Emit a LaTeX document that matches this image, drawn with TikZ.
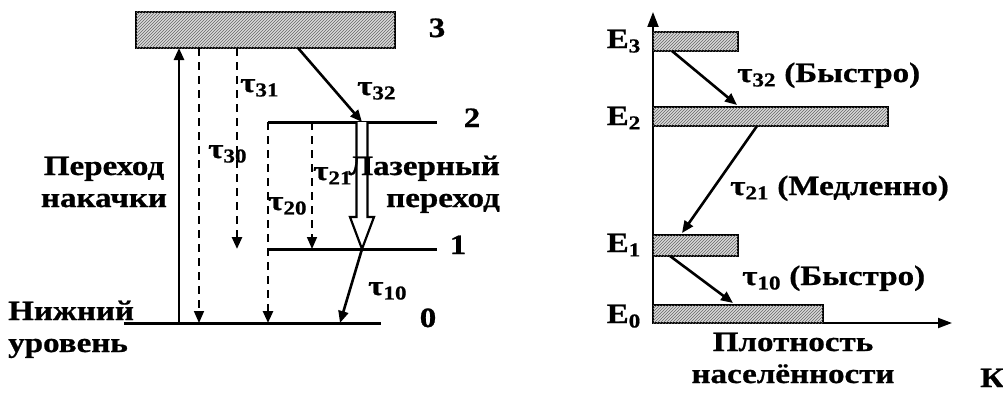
\documentclass[tikz,border=0pt]{standalone}
\usepackage{fontspec}
\setmainfont{Liberation Serif}[FakeStretch=1.18, BoldFeatures={FakeBold=0.8}]
\usetikzlibrary{positioning,calc,arrows.meta,patterns}

\begin{document}
\begin{tikzpicture}[x=1pt,y=1pt,
  lbl/.style={font=\bfseries\fontsize{28}{32}\selectfont, inner sep=0pt},
  bar/.style={draw, line width=1.8pt, fill=black!15, inner sep=0pt, outer sep=0pt,
    anchor=south west, minimum height=19,
    postaction={pattern=north east lines, pattern color=black!60}},
  lvl/.style={line width=3pt},
  tr/.style={-{Triangle[length=12pt,width=10pt]}, line width=2.6pt},
  dsh/.style={tr, dash pattern=on 8pt off 6pt},
  thindsh/.style={-{Triangle[length=12pt,width=10pt]}, line width=1.6pt, dash pattern=on 8pt off 6pt}]
\useasboundingbox (0,0) rectangle (1003,392);

% --- level scheme (left) ---
\node[bar, minimum width=259, minimum height=36] (lev3) at (136,344) {};
\draw[lvl] (268,270) coordinate (l2w) -- (437,270) coordinate (l2e);
\draw[lvl] (268,143) coordinate (l1w) -- (437,143) coordinate (l1e);
\draw[lvl] (124,69) coordinate (l0w) -- (381,69) coordinate (l0e);
\path (lev3.south west) ++(43,0) coordinate (a3) ++(20,0) coordinate (b3)
  ++(38,0) coordinate (c3) ++(61,0) coordinate (d3);
\coordinate (las2) at (362,270);
\coordinate (las1) at (362,143);
\coordinate (t21) at (312,270);
\coordinate (t10) at (340,69);

\node[lbl, anchor=base] (n3) at (437,355) {3};
\node[lbl, anchor=base] (n2) at (472,265) {2};
\node[lbl, anchor=base] (n1) at (458,138) {1};
\node[lbl, anchor=base] (n0) at (428,65) {0};

\draw[tr] (a3 |- l0w) -- (a3);
\draw[thindsh] (b3) -- (b3 |- l0w);
\draw[dsh] (c3) -- (c3 |- l1w);
\draw[tr] (d3) -- (las2);
\draw[dsh] (l2w) -- (l2w |- l0w);
\draw[thindsh] (t21) -- (t21 |- l1w);
\draw[line width=2.2pt, fill=white] ($(las2)+(-5.5,0)$) -- ($(las1)+(-5.5,32)$)
  -- ($(las1)+(-12,32)$) -- (las1) -- ($(las1)+(12,32)$)
  -- ($(las1)+(5.5,32)$) -- ($(las2)+(5.5,0)$);
\draw[tr] (las1) -- (t10);

\node[lbl, anchor=base west] (tau31) at (240,300) {τ\textsubscript{31}};
\node[lbl, anchor=base west] (tau30) at (208,234) {τ\textsubscript{30}};
\node[lbl, anchor=base west] (tau21) at (313,212) {τ\textsubscript{21}};
\node[lbl, anchor=base west] (tau20) at (268,182) {τ\textsubscript{20}};
\node[lbl, anchor=base west] (tau32) at (357,297) {τ\textsubscript{32}};
\node[lbl, anchor=base west] (tau10) at (368,97) {τ\textsubscript{10}};

\node[lbl, align=center, anchor=base] (pump) at (104,185) {Переход\\накачки};
\node[lbl, align=right, anchor=base east] (laser) at (500,185) {Лазерный\\переход};
\node[lbl, align=left, anchor=base west] (lower) at (8,40) {Нижний\\уровень};

% --- populations (right) ---
\coordinate (O) at (653,69);
\draw[line width=2pt, -{Triangle[length=15pt,width=11pt]}] (O) -- (653,380) coordinate (ytop);
\draw[line width=2pt, -{Triangle[length=14pt,width=10pt]}] (O) -- (952,69) coordinate (xend);
\node[bar, minimum width=85] (E3) at (653,341) {};
\node[bar, minimum width=235] (E2) at (653,266) {};
\node[bar, minimum width=85, minimum height=21] (E1) at (653,136) {};
\node[bar, minimum width=170, minimum height=18] (E0) at (653,69) {};

\node[lbl, anchor=base east] (e3) at (641,344) {E\textsubscript{3}};
\node[lbl, anchor=base east] (e2) at (641,267) {E\textsubscript{2}};
\node[lbl, anchor=base east] (e1) at (641,140) {E\textsubscript{1}};
\node[lbl, anchor=base east] (e0) at (641,69) {E\textsubscript{0}};

\draw[tr] ($(E3.south west)+(19,0)$) -- ($(E2.north west)+(84,2)$);
\draw[tr] ($(E2.south west)+(104,0)$) -- ($(E1.north west)+(29,2)$);
\draw[tr] ($(E1.south west)+(17,0)$) -- ($(E0.north west)+(80,2)$);

\node[lbl, anchor=base west] (r32) at (737,310) {τ\textsubscript{32} (Быстро)};
\node[lbl, anchor=base west] (r21) at (730,197) {τ\textsubscript{21} (Медленно)};
\node[lbl, anchor=base west] (r10) at (742,107) {τ\textsubscript{10} (Быстро)};
\node[lbl, align=center, anchor=base] (dens) at (793,9) {Плотность\\населённости};
\node[lbl, anchor=base west] (k) at (980,5) {К};
\end{tikzpicture}
\end{document}
